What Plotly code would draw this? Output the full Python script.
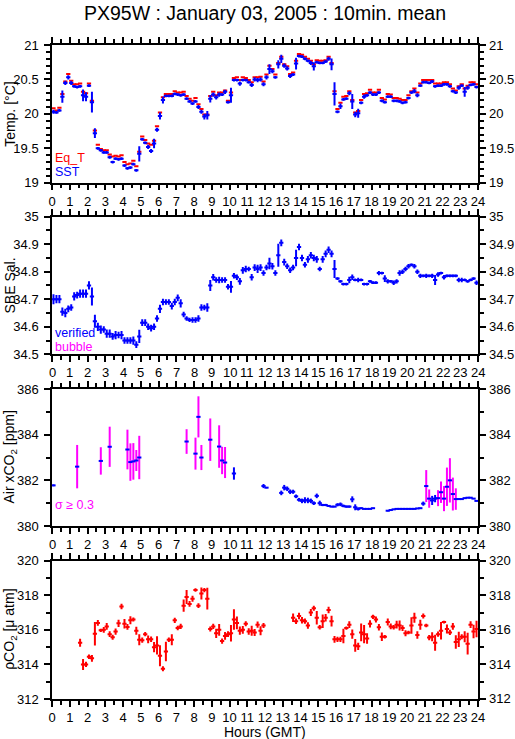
import plotly.graph_objects as go

# ---------------- data (10-minute means, 144 intervals) ----------------
N_INTERVALS = 144
hours = [(i + 0.5) / 6.0 for i in range(N_INTERVALS)]

sst = [20.03, 20.02, 20.05, 20.25, 20.45, 20.53, 20.45, 20.40, 20.39, 20.40,
       20.27, 20.25, 20.41, 20.17, 19.72, 19.50, 19.47, 19.44, 19.44, 19.37,
       19.30, 19.35, 19.34, 19.35, 19.25, 19.21, 19.22, 19.27, 19.18, 19.42,
       19.63, 19.58, 19.52, 19.46, 19.57, 19.77, 19.97, 20.20, 20.26, 20.26,
       20.26, 20.29, 20.28, 20.27, 20.28, 20.22, 20.18, 20.15, 20.18, 20.10,
       20.03, 19.96, 19.98, 20.22, 20.28, 20.24, 20.28, 20.28, 20.32, 20.17,
       20.27, 20.49, 20.49, 20.44, 20.49, 20.49, 20.46, 20.42, 20.50,
       20.49, 20.50, 20.43, 20.53, 20.65, 20.62, 20.53, 20.72, 20.80, 20.70,
       20.66, 20.55, 20.57, 20.73, 20.84, 20.83, 20.80, 20.77, 20.74, 20.69,
       20.75, 20.74, 20.74, 20.76, 20.80, 20.72, 20.29, 20.03, 20.11, 20.21,
       20.22, 20.30, 20.18, 19.99, 20.01, 20.16, 20.25, 20.27, 20.31, 20.28,
       20.28, 20.31, 20.19, 20.17, 20.25, 20.25, 20.19, 20.19, 20.18, 20.16,
       20.17, 20.23, 20.31, 20.33, 20.27, 20.41, 20.46, 20.46, 20.45, 20.47,
       20.40, 20.41, 20.41, 20.43, 20.43, 20.40, 20.33, 20.31, 20.38, 20.41,
       20.32, 20.38, 20.42, 20.43, 20.39]

sst_sd = [0.03, 0.02, 0.02, 0.09, 0.03, 0.03, 0.03, 0.02, 0.02, 0.02,
          0.085, 0.065, 0.02, 0.15, 0.07, 0.02, 0.02, 0.02, 0.02, 0.02,
          0.02, 0.02, 0.02, 0.02, 0.02, 0.02, 0.02, 0.02, 0.02, 0.11,
          0.02, 0.02, 0.03, 0.03, 0.07, 0.03, 0.05, 0.05, 0.02, 0.02,
          0.02, 0.02, 0.02, 0.02, 0.02, 0.02, 0.02, 0.02, 0.02, 0.03,
          0.03, 0.04, 0.06, 0.055, 0.03, 0.03, 0.03, 0.02, 0.03, 0.02,
          0.11, 0.02, 0.02, 0.03, 0.02, 0.02, 0.02, 0.03, 0.03,
          0.03, 0.03, 0.03, 0.03, 0.07, 0.03, 0.02, 0.06, 0.06, 0.03,
          0.03, 0.03, 0.02, 0.085, 0.02, 0.02, 0.02, 0.02, 0.03, 0.06,
          0.02, 0.02, 0.02, 0.02, 0.03, 0.085, 0.17, 0.02, 0.04, 0.02,
          0.02, 0.03, 0.11, 0.04, 0.065, 0.02, 0.03, 0.02, 0.02, 0.02,
          0.02, 0.02, 0.02, 0.02, 0.02, 0.02, 0.02, 0.02, 0.02, 0.02,
          0.02, 0.02, 0.02, 0.03, 0.03, 0.02, 0.02, 0.02, 0.02, 0.02,
          0.02, 0.02, 0.02, 0.02, 0.02, 0.02, 0.02, 0.02, 0.03, 0.02,
          0.07, 0.03, 0.02, 0.02, 0.02]

eq_t = [20.08, 20.05, 20.09, 20.29, 20.47, 20.58, 20.48, 20.43, 20.43, 20.44,
        20.32, 20.30, 20.44, 20.19, 19.76, 19.55, 19.49, 19.47, 19.47, 19.41,
        19.38, 19.39, 19.38, 19.40, 19.30, 19.27, 19.28, 19.32, 19.24, 19.45,
        19.67, 19.62, 19.57, 19.55, 19.61, 19.82, 20.02, 20.24, 20.29, 20.29,
        20.29, 20.33, 20.31, 20.31, 20.32, 20.26, 20.22, 20.19, 20.23, 20.14,
        20.07, 19.99, 19.99, 20.26, 20.32, 20.27, 20.31, 20.31, 20.34, 20.19,
        20.31, 20.52, 20.53, 20.49, 20.53, 20.52, 20.49, 20.46, 20.53,
        20.53, 20.54, 20.47, 20.57, 20.70, 20.65, 20.57, 20.74, 20.83, 20.72,
        20.69, 20.58, 20.60, 20.77, 20.87, 20.86, 20.83, 20.80, 20.77, 20.72,
        20.78, 20.77, 20.77, 20.78, 20.83, 20.74, 20.33, 20.07, 20.16, 20.25,
        20.26, 20.33, 20.20, 20.02, 20.04, 20.20, 20.29, 20.30, 20.35, 20.31,
        20.31, 20.35, 20.23, 20.21, 20.29, 20.28, 20.23, 20.23, 20.22, 20.20,
        20.20, 20.27, 20.33, 20.37, 20.31, 20.44, 20.49, 20.49, 20.49, 20.49,
        20.44, 20.44, 20.44, 20.46, 20.46, 20.43, 20.37, 20.34, 20.40, 20.43,
        20.37, 20.41, 20.46, 20.46, 20.43]

salinity = [34.700, 34.700, 34.700, 34.655, 34.650, 34.665, 34.670, 34.710, 34.715, 34.720,
            34.720, 34.720, 34.750, 34.710, 34.620, 34.600, 34.590, 34.590, 34.575, 34.575,
            34.565, 34.570, 34.570, 34.570, 34.550, 34.550, 34.550, 34.550, 34.535, 34.565,
            34.615, 34.615, 34.600, 34.595, 34.600, 34.630, 34.665, 34.690, 34.690, 34.690,
            34.675, 34.690, 34.705, 34.685, 34.645, 34.630, 34.625, 34.625, 34.625, 34.630,
            34.670, 34.670, 34.670, 34.750, 34.780, 34.770, 34.770, 34.770, 34.770, 34.745,
            34.745, 34.785, 34.780, 34.765, 34.805, 34.810, 34.810, 34.780, 34.815,
            34.810, 34.815, 34.795, 34.815, 34.830, 34.820, 34.795, 34.860, 34.905, 34.835,
            34.820, 34.805, 34.815, 34.850, 34.890, 34.850, 34.825, 34.845, 34.860, 34.850,
            34.845, 34.810, 34.845, 34.865, 34.880, 34.865, 34.810, 34.775, 34.765, 34.755,
            34.755, 34.770, 34.780, 34.770, 34.770, 34.770, 34.755, 34.755, 34.765, 34.760,
            34.760, 34.795, 34.795, 34.775, 34.765, 34.765, 34.760, 34.765, 34.795, 34.800,
            34.810, 34.820, 34.825, 34.820, 34.800, 34.785, 34.785, 34.785, 34.785, 34.785,
            34.770, 34.790, 34.795, 34.780, 34.785, 34.785, 34.785, 34.785, 34.770, 34.770,
            34.770, 34.765, 34.770, 34.775, 34.760]

salinity_sd = [0.018, 0.015, 0.015, 0.015, 0.015, 0.012, 0.012, 0.015, 0.012, 0.015,
               0.015, 0.015, 0.015, 0.033, 0.024, 0.015, 0.015, 0.012, 0.015, 0.015,
               0.012, 0.015, 0.012, 0.015, 0.012, 0.012, 0.012, 0.015, 0.012, 0.024,
               0.012, 0.012, 0.012, 0.012, 0.012, 0.012, 0.015, 0.012, 0.010, 0.010,
               0.012, 0.012, 0.012, 0.015, 0.010, 0.008, 0.008, 0.010, 0.010, 0.012,
               0.012, 0.010, 0.015, 0.020, 0.012, 0.010, 0.012, 0.010, 0.010, 0.010,
               0.021, 0.010, 0.010, 0.012, 0.012, 0.012, 0.008, 0.012, 0.012,
               0.015, 0.012, 0.010, 0.010, 0.021, 0.012, 0.010, 0.042, 0.012, 0.012,
               0.010, 0.010, 0.010, 0.030, 0.012, 0.012, 0.010, 0.012, 0.012, 0.012,
               0.012, 0.008, 0.012, 0.012, 0.012, 0.012, 0.033, 0.005, 0.005, 0.005,
               0.005, 0.012, 0.010, 0.005, 0.008, 0.005, 0.005, 0.005, 0.005, 0.005,
               0.005, 0.008, 0.005, 0.012, 0.008, 0.005, 0.008, 0.008, 0.010, 0.008,
               0.008, 0.008, 0.005, 0.008, 0.008, 0.008, 0.005, 0.008, 0.005, 0.008,
               0.018, 0.008, 0.005, 0.008, 0.005, 0.005, 0.005, 0.005, 0.008, 0.008,
               0.005, 0.005, 0.005, 0.005, 0.008]

_ = None
air_xco2 = [381.78, _, _, _, _, _, _, _, 382.60, _,
            _, _, _, _, _, _, 382.85, _, _, 383.47,
            _, _, _, _, _, 383.35, 382.80, 382.83, 382.87, 383.00,
            _, _, _, _, _, _, _, _, _, _,
            _, _, _, _, _, 383.70, _, _, 383.17, 384.78,
            383.00, _, _, 383.78, _, _, 383.48, 382.87, 382.78, _,
            _, 382.30, _, _, _, _, _, _, _, _,
            _, 381.75, 381.68, _, _, _, _, 381.45, 381.68, 381.63,
            381.50, 381.50, 381.30, 381.15, 381.10, 381.13, 381.12, 381.10, 381.00, 381.32,
            381.00, 380.92, 380.92, 380.88, 380.85, 380.85, 380.93, 380.95, 380.88, 380.85,
            380.85, 381.17, 380.82, 380.75, 380.78, 380.75, 380.75, 380.75, 380.78, _,
            _, _, _, 380.67, 380.70, 380.73, 380.75, 380.75, 380.75, 380.75,
            380.75, 380.75, 380.75, 380.77, 380.78, 380.98, 381.75, 381.20, 381.12, 381.20,
            381.22, 381.48, 381.20, 381.72, 382.00, 381.40, 381.18, 381.18, 381.18, 381.22,
            381.24, 381.24, 381.20, 381.10]

air_xco2_sd = [0.04, _, _, _, _, _, _, _, 0.95, _,
               _, _, _, _, _, _, 0.60, _, _, 0.88,
               _, _, _, _, _, 0.87, 0.82, 0.80, 0.46, 0.95,
               _, _, _, _, _, _, _, _, _, _,
               _, _, _, _, _, 0.54, _, _, 0.70, 0.90,
               0.55, _, _, 0.93, _, _, 0.93, 0.60, 0.68, _,
               _, 0.27, _, _, _, _, _, _, _, _,
               _, 0.09, 0.03, _, _, _, _, 0.10, 0.12, 0.10,
               0.10, 0.09, 0.08, 0.08, 0.10, 0.13, 0.12, 0.10, 0.08, 0.10,
               0.11, 0.05, 0.05, 0.04, 0.03, 0.03, 0.07, 0.08, 0.06, 0.05,
               0.05, 0.13, 0.13, 0.07, 0.04, 0.02, 0.02, 0.02, 0.02, _,
               _, _, _, 0.03, 0.02, 0.02, 0.02, 0.02, 0.02, 0.02,
               0.02, 0.02, 0.02, 0.02, 0.02, 0.09, 0.70, 0.40, 0.20, 0.16,
               0.35, 0.47, 0.55, 0.84, 0.97, 0.72, 0.47, 0.03, 0.03, 0.02,
               0.02, 0.02, 0.02, 0.02]

pco2 = [_, _, _, _, _, _, _, _, _, 315.25,
        314.00, 314.00, 314.45, 314.35, 315.77, 316.40, 315.97, 316.00, 316.20, 315.75,
        315.57, 315.90, 316.38, 317.35, 316.35, 316.17, 316.55, 316.60, 315.95, 315.43,
        315.40, 315.75, 315.45, 315.45, 315.00, 315.10, 314.50, 313.75, 314.75, 315.43,
        315.43, 316.55, 316.10, 316.20, 317.40, 317.90, 317.50, 317.80, 318.30, 317.40,
        318.10, 318.30, 317.80, 316.05, 316.20, 315.80, 316.00, 315.35, 315.65, 315.75,
        315.80, 316.60, 316.40, 315.95, 316.00, 316.35, 315.90, 315.95, 315.85, 316.30,
        315.95, 316.25, _, _, _, _, _, _, _, _,
        _, 316.70, 316.50, 316.80, 316.55, 316.50, 316.25, 317.00, 317.25, 316.70,
        316.15, 316.50, 316.70, 317.15, 316.50, 315.45, 315.45, 315.45, 315.65, 316.10,
        316.30, 315.75, 315.10, 315.05, 315.85, 315.75, 315.50, 316.35, 316.75, 316.60,
        316.15, 315.60, 315.60, 316.45, 316.20, 316.15, 316.30, 316.25, 316.10, 315.80,
        315.85, 316.25, 316.70, 315.70, 316.30, 316.80, 316.25, 315.55, 315.60, 315.25,
        315.75, 315.95, 316.45, 316.05, 315.85, 316.20, 315.30, 315.45, 315.60, 315.60,
        315.20, 316.30, 315.90, 316.05]

pco2_sd = [_, _, _, _, _, _, _, _, _, 0.23,
           0.32, 0.15, 0.13, 0.20, 0.68, 0.17, 0.10, 0.17, 0.19, 0.17,
           0.15, 0.18, 0.21, 0.16, 0.27, 0.17, 0.23, 0.12, 0.23, 0.32,
           0.15, 0.12, 0.22, 0.16, 0.29, 0.53, 0.61, 0.15, 0.56, 0.13,
           0.32, 0.15, 0.13, 0.15, 0.36, 0.41, 0.17, 0.17, 0.10, 0.14,
           0.35, 0.12, 0.63, 0.14, 0.15, 0.27, 0.34, 0.15, 0.22, 0.17,
           0.48, 0.59, 0.37, 0.24, 0.22, 0.14, 0.19, 0.29, 0.20, 0.18,
           0.26, 0.15, _, _, _, _, _, _, _, _,
           _, 0.24, 0.16, 0.19, 0.19, 0.15, 0.19, 0.20, 0.14, 0.39,
           0.13, 0.39, 0.22, 0.19, 0.31, 0.19, 0.15, 0.15, 0.42, 0.10,
           0.19, 0.27, 0.37, 0.21, 0.51, 0.53, 0.31, 0.21, 0.12, 0.17,
           0.19, 0.24, 0.10, 0.20, 0.17, 0.13, 0.22, 0.29, 0.17, 0.17,
           0.10, 0.48, 0.29, 0.22, 0.29, 0.14, 0.10, 0.15, 0.26, 0.46,
           0.15, 0.51, 0.08, 0.26, 0.15, 0.19, 0.39, 0.44, 0.15, 0.32,
           0.63, 0.19, 0.39, 0.48]

SIGMA_LIMIT = 0.3
hour_ticks = list(range(0, 25))
temp_ticks = [19, 19.5, 20, 20.5, 21]
sal_ticks = [34.5, 34.6, 34.7, 34.8, 34.9, 35]
xco2_ticks = [380, 382, 384, 386]
pco2_ticks = [312, 314, 316, 318, 320]

# ---------------- style ----------------
RED = "#ff0000"
BLUE = "#0000ff"
MAGENTA = "#ff00ff"
FONT = "Liberation Sans, Arial, sans-serif"
HALF_DASH = 0.12     # half width (hours) of the horizontal bar of each cross
BAR_T = 2            # thickness of the bars
L, R, T, B = 52, 37, 45, 40
W, H = 515, 739
PH = H - T - B
PW = W - L - R

domains = [[0.7894, 1.0], [0.5271, 0.7375], [0.2645, 0.4740], [0.0, 0.2115]]
yticks = [temp_ticks, sal_ticks, xco2_ticks, pco2_ticks]
yminor = [0.1, 0.05, 1, 1]
ytitles = ["Temp. [°C]", "SBE Sal.", "Air xCO<sub>2</sub> [ppm]", "ρCO<sub>2</sub> [μ atm]"]
bottom_labels = [True, False, False, True]
top_labels = [False, False, True, True]


def ax_id(prefix, k):
    return prefix if k == 1 else f"{prefix}{k}"


def cross(x, y, xerr, yerr, color, k, show_h=True, show_v=True):
    return go.Scatter(
        x=x, y=y, mode="markers", xaxis=ax_id("x", k), yaxis=ax_id("y", k),
        marker=dict(size=0.1, color=color, opacity=0),
        error_x=dict(type="data", array=xerr, symmetric=True, color=color,
                     thickness=BAR_T, width=0, visible=show_h),
        error_y=dict(type="data", array=yerr, symmetric=True, color=color,
                     thickness=BAR_T, width=0, visible=show_v),
        showlegend=False, hoverinfo="x+y",
    )


half = [HALF_DASH] * N_INTERVALS

fig = go.Figure()
fig.add_trace(cross(hours, eq_t, half, None, RED, 1, show_v=False))
fig.add_trace(cross(hours, sst, half, sst_sd, BLUE, 1))
fig.add_trace(cross(hours, salinity, half, salinity_sd, BLUE, 2))
big_y = [v if (s is not None and s >= SIGMA_LIMIT) else None for v, s in zip(air_xco2, air_xco2_sd)]
big_sd = [s if (s is not None and s >= SIGMA_LIMIT) else 0 for s in air_xco2_sd]
small_sd = [s if (s is not None and s < SIGMA_LIMIT) else 0 for s in air_xco2_sd]
fig.add_trace(cross(hours, big_y, None, big_sd, MAGENTA, 3, show_h=False))
fig.add_trace(cross(hours, air_xco2, half, small_sd, BLUE, 3))
fig.add_trace(cross(hours, pco2, half, pco2_sd, RED, 4))

tickfont = dict(family=FONT, size=13, color="black")
common = dict(showgrid=False, zeroline=False, showline=True, linecolor="black",
              linewidth=1.5, ticks="outside", tickcolor="black", tickwidth=1.5,
              tickfont=tickfont, mirror="allticks", automargin=False, ticklen=6)

layout = dict(
    template="none",
    width=W, height=H, paper_bgcolor="white", plot_bgcolor="white",
    margin=dict(l=L, r=R, t=T, b=B, autoexpand=False),
    font=dict(family=FONT, size=13, color="black"),
    title=dict(text="PX95W : January 03, 2005 : 10min. mean", x=0.5, xanchor="center",
               xref="paper", y=1 - 13 / H, yanchor="middle", font=dict(family=FONT, size=19.5)),
    showlegend=False,
)

for k in range(1, 5):
    sfx = "" if k == 1 else str(k)
    layout[f"xaxis{sfx}"] = dict(
        common, domain=[0, 1], anchor=ax_id("y", k), range=[0, 24], side="bottom",
        tickmode="array", tickvals=hour_ticks, ticktext=[str(h) for h in hour_ticks],
        minor=dict(dtick=0.5, tick0=0, ticks="outside", ticklen=4,
                   tickcolor="black", tickwidth=1.5, showgrid=False),
        showticklabels=bottom_labels[k - 1], ticklabelstandoff=0)
    yt = yticks[k - 1]
    layout[f"yaxis{sfx}"] = dict(
        common, domain=domains[k - 1], anchor=ax_id("x", k), range=[yt[0], yt[-1]], side="left",
        tickmode="array", tickvals=yt, ticktext=[f"{v:g}" for v in yt],
        minor=dict(dtick=yminor[k - 1], tick0=yt[0], ticks="outside", ticklen=4,
                   tickcolor="black", tickwidth=1.5, showgrid=False),
        ticklabelstandoff=3)

fig.update_layout(**layout)

# right-hand and top tick labels (mirrored labelling as in the original)
for k in range(1, 5):
    xr = ax_id("x", k)
    yr = ax_id("y", k)
    for v in yticks[k - 1]:
        fig.add_annotation(text=f"{v:g}", x=1, xref=f"{xr} domain", y=v, yref=yr,
                           xanchor="left", yanchor="middle", xshift=9, showarrow=False,
                           font=tickfont)
    if top_labels[k - 1]:
        for h in hour_ticks:
            fig.add_annotation(text=str(h), x=h, xref=xr, y=1, yref=f"{yr} domain",
                               xanchor="center", yanchor="bottom", yshift=7,
                               showarrow=False, font=tickfont)
    d = domains[k - 1]
    fig.add_annotation(text=ytitles[k - 1], x=(10 - L) / PW, xref="paper",
                       y=(d[0] + d[1]) / 2, yref="paper", textangle=-90,
                       xanchor="center", yanchor="middle", showarrow=False,
                       font=dict(family=FONT, size=14))

texts = [
    ("Eq_T", RED, 1, 0.182),
    ("SST", BLUE, 1, 0.076),
    ("verified", BLUE, 2, 0.157),
    ("bubble", MAGENTA, 2, 0.055),
    ("σ ≥ 0.3", MAGENTA, 3, 0.15),
]
for txt, col, k, yy in texts:
    fig.add_annotation(text=txt, x=0.12, y=yy, xref=ax_id("x", k), yref=f"{ax_id('y', k)} domain",
                       xanchor="left", yanchor="middle", showarrow=False, borderpad=0,
                       font=dict(family=FONT, size=12.5, color=col))
fig.add_annotation(text="Hours (GMT)", x=0.5, y=-32.5 / PH, xref="paper", yref="paper",
                   xanchor="center", yanchor="middle", showarrow=False,
                   font=dict(family=FONT, size=14))

# the page is shown at its top-left corner, without the browser's default body margin
fig.write_html("out.html", config={"displayModeBar": False},
               post_script="document.body.style.margin='0';")
